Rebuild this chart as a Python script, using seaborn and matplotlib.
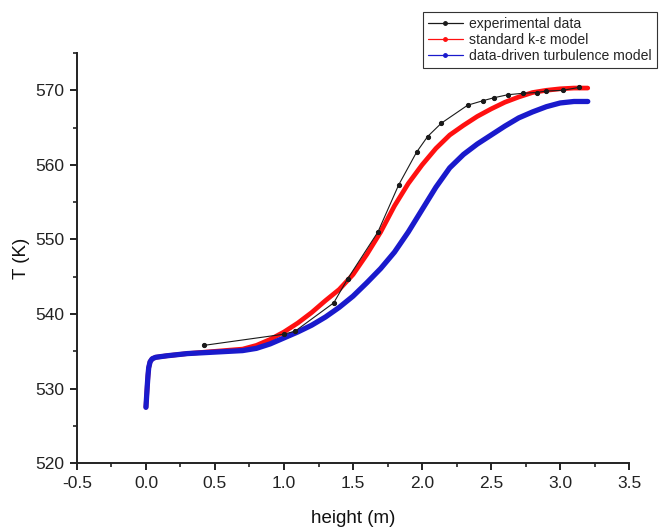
import numpy as np
import pandas as pd
import matplotlib
matplotlib.use("Agg")
import matplotlib.pyplot as plt
from matplotlib.lines import Line2D
from matplotlib.ticker import MultipleLocator
import seaborn as sns

# ---- data ----
exp_x = [0.42, 1.00, 1.08, 1.36, 1.46, 1.68, 1.83, 1.96, 2.04, 2.14, 2.33, 2.44,
         2.52, 2.62, 2.73, 2.83, 2.90, 3.02, 3.14]
exp_T = [535.8, 537.3, 537.7, 541.5, 544.7, 551.0, 557.3, 561.7, 563.8, 565.6,
         568.0, 568.6, 569.0, 569.4, 569.6, 569.7, 569.9, 570.0, 570.4]

ske_x = [0.000, 0.005, 0.010, 0.015, 0.020, 0.030, 0.045, 0.07, 0.15, 0.30, 0.50,
         0.70, 0.80, 0.90, 1.00, 1.10, 1.20, 1.30, 1.40, 1.50, 1.60, 1.70, 1.80,
         1.90, 2.00, 2.10, 2.20, 2.30, 2.40, 2.50, 2.60, 2.70, 2.80, 2.90, 3.00,
         3.10, 3.20]
ske_T = [527.5, 529.0, 530.5, 531.8, 532.8, 533.6, 534.0, 534.2, 534.4, 534.7, 535.0,
         535.3, 535.8, 536.6, 537.6, 538.8, 540.2, 541.8, 543.3, 545.3, 548.0, 551.0,
         554.5, 557.5, 560.0, 562.2, 564.0, 565.3, 566.5, 567.5, 568.4, 569.1, 569.7,
         570.0, 570.2, 570.3, 570.3]

dd_x = [0.000, 0.005, 0.010, 0.015, 0.020, 0.030, 0.045, 0.07, 0.15, 0.30, 0.50,
        0.70, 0.80, 0.90, 1.00, 1.10, 1.20, 1.30, 1.40, 1.50, 1.60, 1.70, 1.80,
        1.90, 2.00, 2.10, 2.20, 2.30, 2.40, 2.50, 2.60, 2.70, 2.80, 2.90, 3.00,
        3.10, 3.20]
dd_T = [527.5, 529.0, 530.5, 531.8, 532.8, 533.6, 534.0, 534.2, 534.4, 534.7, 534.9,
        535.1, 535.4, 536.0, 536.8, 537.6, 538.5, 539.6, 540.9, 542.4, 544.2, 546.1,
        548.3, 551.0, 554.0, 557.0, 559.6, 561.4, 562.8, 564.0, 565.2, 566.3, 567.1,
        567.8, 568.3, 568.5, 568.5]

labels = ["experimental data", "standard k-\u03b5 model", "data-driven turbulence model"]
colors = ["#1a1a1a", "#ff1010", "#1a1acc"]

sns.set_style("ticks")
plt.rcParams["font.family"] = ["Liberation Sans", "DejaVu Sans"]

fig = plt.figure(figsize=(6.63, 5.30), dpi=100)
ax = fig.add_axes([0.116, 0.126, 0.833, 0.774])

df_ske = pd.DataFrame({"x": ske_x, "T": ske_T})
df_dd = pd.DataFrame({"x": dd_x, "T": dd_T})
df_exp = pd.DataFrame({"x": exp_x, "T": exp_T})

sns.lineplot(data=df_ske, x="x", y="T", ax=ax, color=colors[1], lw=3.4,
             sort=False, estimator=None)
sns.lineplot(data=df_dd, x="x", y="T", ax=ax, color=colors[2], lw=3.8,
             sort=False, estimator=None)
sns.lineplot(data=df_exp, x="x", y="T", ax=ax, color=colors[0], lw=0.8,
             sort=False, estimator=None, marker="o", markersize=3, mec=colors[0])

ax.set_xlim(-0.5, 3.5)
ax.set_ylim(520, 575)
ax.xaxis.set_minor_locator(MultipleLocator(0.25))
ax.yaxis.set_minor_locator(MultipleLocator(5))
ax.set_xticks(np.arange(-0.5, 3.51, 0.5))
ax.set_xticklabels([f"{v:.1f}" for v in np.arange(-0.5, 3.51, 0.5)])
ax.set_yticks(np.arange(520, 571, 10))

sns.despine(ax=ax)
for s in ["left", "bottom"]:
    ax.spines[s].set_linewidth(1.4)
    ax.spines[s].set_color("#222222")
ax.tick_params(which="major", direction="out", length=5, width=1.4,
               labelsize=12.5, colors="#222222", pad=4)
ax.tick_params(which="minor", direction="out", length=3, width=1.2, colors="#222222")

ax.set_xlabel("height (m)", fontsize=13.5, color="#111111", labelpad=14)
ax.set_ylabel("T (K)", fontsize=13.5, color="#111111", labelpad=4)

handles = [Line2D([0], [0], color=c, lw=0.9, marker="o", markersize=2.5) for c in colors]
leg = fig.legend(handles, labels, loc="upper left",
                 bbox_to_anchor=(0.638, 0.978), bbox_transform=fig.transFigure,
                 fancybox=False, edgecolor="#333333", framealpha=1, fontsize=10.1,
                 handlelength=2.5, handletextpad=0.45, borderpad=0.35,
                 labelspacing=0.15, borderaxespad=0)
leg.get_frame().set_linewidth(0.8)

fig.savefig("out.png", dpi=100)
